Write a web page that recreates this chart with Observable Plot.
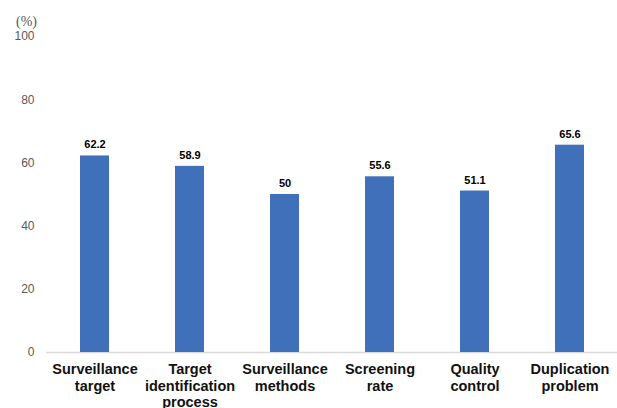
<!DOCTYPE html>
<html>
<head>
<meta charset="utf-8">
<script src="https://cdn.jsdelivr.net/npm/d3@7"></script>
<script src="https://cdn.jsdelivr.net/npm/@observablehq/plot@0.6"></script>
<style>
  html, body { margin: 0; padding: 0; background: #fff; }
  #chart svg { display: block; }
</style>
</head>
<body>
<div id="chart"></div>
<script>
const categories = [
  "Surveillance\ntarget",
  "Target\nidentification\nprocess",
  "Surveillance\nmethods",
  "Screening\nrate",
  "Quality\ncontrol",
  "Duplication\nproblem"
];
const values = [62.2, 58.9, 50, 55.6, 51.1, 65.6];
const yTicks = [0, 20, 40, 60, 80, 100];
const unitLabel = "(%)";

const data = categories.map((c, i) => ({category: c, value: values[i]}));

const chart = Plot.plot({
  width: 617,
  height: 408,
  marginLeft: 46,
  marginRight: 0,
  marginTop: 36,
  marginBottom: 56,
  style: {fontFamily: "'Liberation Sans', Arial, sans-serif", background: "#fff"},
  x: {domain: categories, range: [46, 619], paddingInner: 0.69, paddingOuter: 0.345, label: null},
  y: {domain: [0, 100], label: null},
  marks: [
    Plot.ruleY([0], {stroke: "#d9d9d9", strokeWidth: 1.5}),
    Plot.barY(data, {x: "category", y: "value", fill: "#4070BA"}),
    Plot.text(data, {
      x: "category", y: "value", text: d => String(d.value),
      dy: -11, fontWeight: "bold", fontSize: 11, fill: "#000"
    }),
    Plot.axisY({ticks: yTicks, tickSize: 0, tickPadding: 12, fontSize: 12, color: "#595959", label: null}),
    Plot.axisX({
      tickSize: 0, tickPadding: 9, fontSize: 14.5, fontWeight: "bold",
      color: "#111", lineHeight: 1.17, label: null, textAnchor: "middle",
      lineAnchor: "top"
    }),
    Plot.text([unitLabel], {
      frameAnchor: "top-left", text: d => d, dx: -20, dy: -15,
      textAnchor: "middle", lineAnchor: "middle",
      fontFamily: "'Liberation Serif', 'DejaVu Serif', serif", fontSize: 14,
      fill: "#595959"
    })
  ]
});
document.getElementById("chart").appendChild(chart);
</script>
</body>
</html>
